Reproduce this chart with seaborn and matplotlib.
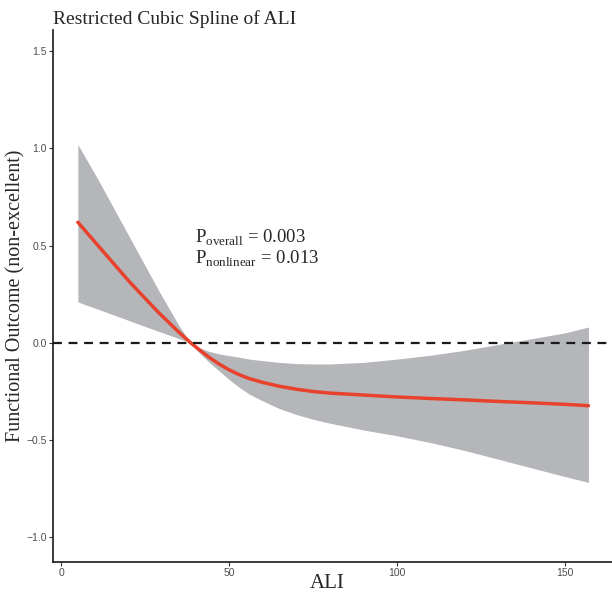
import pandas as pd
import matplotlib
matplotlib.use('Agg')
import matplotlib.pyplot as plt
import seaborn as sns

# values
ali = [5, 8, 11, 14, 17, 20, 23, 26, 29, 32, 35, 38.5, 41, 44, 47, 50, 53, 56, 60, 65,
       70, 75, 80, 90, 100, 110, 120, 130, 140, 150, 157]
estimate = [0.62, 0.56, 0.50, 0.44, 0.38, 0.32, 0.265, 0.21, 0.155, 0.105, 0.055, 0.0,
            -0.035, -0.075, -0.11, -0.14, -0.165, -0.185, -0.205, -0.225, -0.24, -0.252,
            -0.26, -0.27, -0.28, -0.288, -0.295, -0.303, -0.31, -0.318, -0.325]
upper = [1.02, 0.93, 0.84, 0.745, 0.65, 0.555, 0.46, 0.365, 0.27, 0.18, 0.09, 0.0,
         -0.025, -0.045, -0.058, -0.067, -0.075, -0.085, -0.093, -0.102, -0.108, -0.11,
         -0.11, -0.102, -0.085, -0.065, -0.04, -0.01, 0.02, 0.05, 0.08]
lower = [0.21, 0.19, 0.172, 0.153, 0.134, 0.115, 0.096, 0.077, 0.058, 0.04, 0.021, 0.0,
         -0.05, -0.10, -0.145, -0.19, -0.23, -0.265, -0.30, -0.34, -0.37, -0.395,
         -0.415, -0.45, -0.48, -0.515, -0.555, -0.60, -0.645, -0.69, -0.72]

df = pd.DataFrame({'ALI': ali, 'est': estimate, 'lo': lower, 'hi': upper})

sns.set_style('ticks')
plt.rcParams['mathtext.fontset'] = 'custom'
plt.rcParams['mathtext.rm'] = 'Liberation Serif'

fig = plt.figure(figsize=(6.12, 5.92), dpi=100)
ax = fig.add_axes([53 / 612, 30 / 592, 1 - 53 / 612, 1 - 60 / 592])

ax.fill_between(df['ALI'], df['lo'], df['hi'], color='#b5b6b9', lw=0)
sns.lineplot(data=df, x='ALI', y='est', color='#e8412c', lw=2.5, ax=ax)
ax.axhline(0, color='#1a1a1a', ls=(0, (4, 3)), lw=1.6)

ax.set_xlim(-2.4, 164)
ax.set_ylim(-1.13, 1.61)
ax.set_xticks([0, 50, 100, 150])
ax.set_yticks([-1.0, -0.5, 0.0, 0.5, 1.0, 1.5])
ax.tick_params(labelsize=7.5, colors='#333333', labelcolor='#4d4d4d', length=3,
               width=0.8, pad=1.5)
for lab in ax.get_xticklabels() + ax.get_yticklabels():
    lab.set_family('Liberation Sans')
sns.despine(ax=ax)
for s in ['left', 'bottom']:
    ax.spines[s].set_linewidth(1.2)
    ax.spines[s].set_color('#1a1a1a')

ax.set_xlabel('ALI', family='Liberation Serif', fontsize=15)
ax.xaxis.label.set_verticalalignment('center')
ax.xaxis.set_label_coords(0.49, -21 / 532)
ax.set_ylabel('Functional Outcome (non-excellent)', family='Liberation Serif', fontsize=14.5)
ax.yaxis.label.set_verticalalignment('center')
ax.yaxis.set_label_coords(-37 / 559, 0.5)

ax.set_title('Restricted Cubic Spline of ALI', family='Liberation Serif', fontsize=14,
             loc='left', pad=4)

ax.text(40, 0.515, r'P$_{\mathrm{overall}}$ = 0.003', family='Liberation Serif', fontsize=13.5)
ax.text(40, 0.408, r'P$_{\mathrm{nonlinear}}$ = 0.013', family='Liberation Serif', fontsize=13.5)

fig.savefig('out.png', dpi=100)
